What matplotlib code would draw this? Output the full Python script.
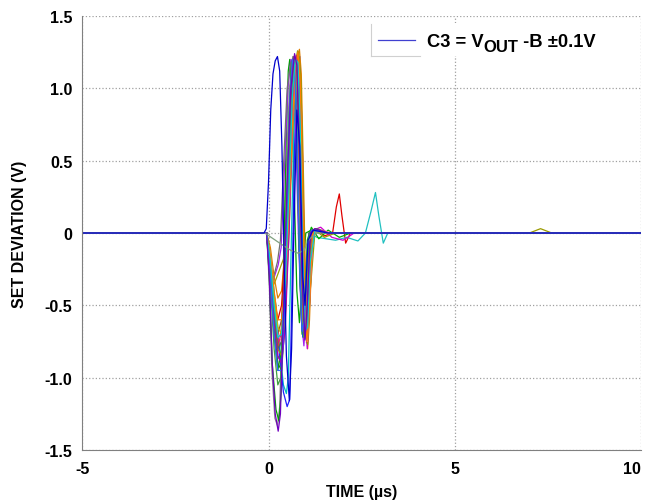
import matplotlib
matplotlib.use('Agg')
import matplotlib.pyplot as plt
from matplotlib.lines import Line2D
from matplotlib.patches import Rectangle

plt.rcParams['font.family'] = ['Liberation Sans', 'DejaVu Sans']
plt.rcParams['font.weight'] = 'bold'
plt.rcParams['axes.unicode_minus'] = False

# SET transients: (colour, time in us, deviation in V)
traces = [
    ('#909090',
     [-5, -0.05, 0.02, 0.09, 0.17, 0.24, 0.3, 0.38, 0.47, 0.56, 0.65, 0.71, 0.77, 0.85, 0.93, 1.0, 1.08, 1.2, 1.6, 10],
     [0, 0, -0.35, -0.95, -1.28, -1.33, -1.2, -0.5, 0.4, 1.0, 1.22, 1.12, 0.55, -0.35, -0.7, -0.45, 0.0, 0.02, 0, 0]),
    ('#00a000',
     [-5, -0.05, 0.02, 0.1, 0.2, 0.28, 0.34, 0.4, 0.47, 0.53, 0.57, 0.62, 0.68, 0.76, 0.83, 0.9, 1.0, 1.15, 1.6, 10],
     [0, 0, -0.3, -0.9, -1.22, -1.3, -1.1, -0.3, 0.6, 1.12, 1.2, 1.05, 0.4, -0.4, -0.62, -0.35, 0.0, 0.02, 0, 0]),
    ('#00c0c0',
     [-5, -0.05, 0.03, 0.1, 0.2, 0.3, 0.4, 0.48, 0.53, 0.6, 0.68, 0.76, 0.82, 0.88, 0.94, 1.0, 1.08, 1.16, 1.3, 10],
     [0, 0, -0.25, -0.35, -0.5, -0.8, -1.05, -1.11, -1.0, -0.2, 0.7, 1.15, 1.2, 0.8, -0.1, -0.6, -0.3, 0.02, 0, 0]),
    ('#2020ff',
     [-5, -0.05, 0.03, 0.1, 0.2, 0.3, 0.4, 0.5, 0.57, 0.63, 0.7, 0.78, 0.84, 0.9, 0.96, 1.02, 1.1, 1.25, 1.6, 10],
     [0, 0, -0.28, -0.38, -0.55, -0.85, -1.1, -1.2, -1.15, -0.4, 0.6, 1.18, 1.22, 0.7, -0.2, -0.65, -0.2, 0.02, 0, 0]),
    ('#a020f0',
     [-5, -0.05, 0.03, 0.08, 0.16, 0.26, 0.34, 0.42, 0.52, 0.6, 0.66, 0.72, 0.8, 0.88, 0.95, 1.02, 1.1, 1.25, 1.6, 10],
     [0, 0, -0.2, -0.36, -0.3, -0.22, -0.1, 0.4, 1.0, 1.2, 1.15, 0.8, 0.0, -0.6, -0.78, -0.5, 0.0, 0.03, 0, 0]),
    ('#a0a000',
     [-5, -0.05, 0.03, 0.1, 0.2, 0.3, 0.4, 0.5, 0.6, 0.7, 0.78, 0.84, 0.9, 0.96, 1.02, 1.08, 1.15, 1.3, 1.6, 10],
     [0, 0, -0.22, -0.38, -0.32, -0.25, -0.18, 0.1, 0.75, 1.15, 1.26, 1.1, 0.4, -0.4, -0.76, -0.45, 0.0, 0.03, 0, 0]),
    ('#707070',
     [-5, -0.05, 0.02, 0.06, 0.14, 0.24, 0.32, 0.4, 0.5, 0.6, 0.68, 0.72, 0.78, 0.86, 0.93, 1.0, 1.08, 1.2, 1.6, 10],
     [0, 0, -0.2, -0.33, -0.3, -0.2, -0.05, 0.45, 1.0, 1.18, 1.22, 1.15, 0.6, -0.3, -0.7, -0.4, 0.0, 0.02, 0, 0]),
    ('#e08000',
     [-5, -0.05, 0.05, 0.15, 0.25, 0.35, 0.45, 0.55, 0.65, 0.75, 0.83, 0.88, 0.93, 0.99, 1.05, 1.1, 1.18, 1.35, 1.6, 10],
     [0, 0, -0.1, -0.3, -0.45, -0.4, -0.1, 0.4, 0.95, 1.2, 1.27, 1.1, 0.5, -0.3, -0.8, -0.6, 0.0, 0.02, 0, 0]),
    ('#e00000',
     [-5, -0.05, 0.05, 0.15, 0.25, 0.35, 0.45, 0.55, 0.65, 0.75, 0.82, 0.9, 0.98, 1.06, 1.15, 1.3, 1.5, 1.72, 1.82, 1.9, 1.97, 2.07, 2.2, 10],
     [0, 0, -0.2, -0.45, -0.6, -0.5, -0.1, 0.5, 1.05, 1.2, 0.9, 0.0, -0.65, -0.4, 0.02, 0.03, -0.02, 0.0, 0.18, 0.27, 0.12, -0.07, 0.0, 0]),
    ('#20c0c0',
     [-5, -0.05, 0.05, 0.15, 0.25, 0.35, 0.45, 0.55, 0.63, 0.7, 0.77, 0.85, 0.93, 1.0, 1.1, 1.3, 1.8, 2.1, 2.4, 2.6, 2.75, 2.87, 2.96, 3.08, 3.2, 10],
     [0, 0, -0.15, -0.4, -0.7, -0.8, -0.5, 0.3, 0.95, 1.2, 1.0, 0.1, -0.6, -0.3, 0.0, -0.03, -0.05, -0.03, -0.055, 0.0, 0.15, 0.28, 0.12, -0.07, 0.0, 0]),
    ('#00b000',
     [-5, -0.05, 0.05, 0.15, 0.25, 0.35, 0.45, 0.55, 0.62, 0.68, 0.75, 0.82, 0.9, 0.96, 1.04, 1.15, 1.35, 1.6, 1.9, 2.2, 10],
     [0, 0, -0.3, -0.7, -0.95, -0.8, -0.2, 0.7, 1.15, 1.2, 0.8, -0.1, -0.7, -0.6, -0.05, 0.04, -0.04, 0.02, -0.03, 0.0, 0]),
    ('#d000d0',
     [-5, -0.05, 0.05, 0.15, 0.25, 0.35, 0.45, 0.55, 0.65, 0.73, 0.8, 0.86, 0.92, 0.98, 1.04, 1.1, 1.2, 1.4, 1.7, 2.0, 2.3, 10],
     [0, 0, -0.25, -0.55, -0.75, -0.7, -0.35, 0.2, 0.85, 1.18, 1.24, 0.95, 0.2, -0.55, -0.8, -0.5, 0.02, 0.04, -0.03, -0.05, 0.0, 0]),
    ('#0040ff',
     [-5, -0.05, 0.05, 0.15, 0.25, 0.35, 0.42, 0.5, 0.58, 0.65, 0.72, 0.78, 0.85, 0.92, 1.0, 1.1, 1.25, 1.6, 10],
     [0, 0, -0.2, -0.5, -0.85, -0.9, -0.5, 0.3, 0.95, 1.2, 1.1, 0.5, -0.35, -0.72, -0.4, 0.0, 0.02, 0, 0]),
    ('#208020',
     [-5, -0.05, 0.05, 0.15, 0.25, 0.35, 0.45, 0.55, 0.65, 0.72, 0.78, 0.84, 0.9, 0.97, 1.03, 1.1, 1.2, 1.6, 10],
     [0, 0, -0.3, -0.65, -0.9, -0.95, -0.6, 0.1, 0.8, 1.15, 1.22, 0.9, 0.1, -0.65, -0.7, -0.3, 0.02, 0, 0]),
    ('#ff3030',
     [-5, -0.05, 0.05, 0.15, 0.25, 0.35, 0.45, 0.55, 0.62, 0.7, 0.76, 0.82, 0.88, 0.95, 1.02, 1.1, 1.2, 1.6, 10],
     [0, 0, -0.25, -0.6, -0.8, -0.65, -0.2, 0.55, 1.0, 1.23, 1.15, 0.6, -0.2, -0.68, -0.55, -0.05, 0.02, 0, 0]),
    ('#9a9a00',
     [-5, -0.05, 0.05, 0.15, 0.25, 0.35, 0.45, 0.55, 0.65, 0.74, 0.81, 0.87, 0.93, 0.99, 1.05, 1.12, 1.25, 1.5, 1.8, 7.0, 7.3, 7.6, 10],
     [0, 0, -0.2, -0.5, -0.8, -0.85, -0.55, 0.0, 0.7, 1.15, 1.25, 1.05, 0.3, -0.5, -0.77, -0.4, 0.02, -0.03, 0.0, 0.0, 0.03, 0.0, 0]),
    ('#a05020',
     [-5, -0.05, 0.05, 0.15, 0.25, 0.35, 0.45, 0.55, 0.64, 0.7, 0.77, 0.84, 0.9, 0.96, 1.02, 1.1, 1.2, 1.6, 10],
     [0, 0, -0.25, -0.55, -0.7, -0.6, -0.2, 0.45, 1.05, 1.2, 1.1, 0.5, -0.25, -0.72, -0.6, -0.1, 0.02, 0, 0]),
    ('#ff60b0',
     [-5, -0.05, 0.05, 0.15, 0.25, 0.35, 0.45, 0.55, 0.65, 0.73, 0.8, 0.86, 0.92, 0.98, 1.04, 1.1, 1.2, 1.4, 1.7, 10],
     [0, 0, -0.2, -0.45, -0.7, -0.75, -0.45, 0.1, 0.8, 1.15, 1.2, 0.85, 0.1, -0.6, -0.75, -0.45, 0.0, 0.02, 0, 0]),
    ('#40a040',
     [-5, -0.05, 0.05, 0.15, 0.25, 0.33, 0.4, 0.47, 0.55, 0.62, 0.68, 0.74, 0.8, 0.87, 0.94, 1.0, 1.1, 1.3, 1.6, 10],
     [0, 0, -0.35, -0.8, -1.05, -1.0, -0.6, 0.1, 0.8, 1.18, 1.2, 0.9, 0.2, -0.5, -0.72, -0.4, 0.0, 0.03, 0, 0]),
    ('#b000b0',
     [-5, -0.05, 0.05, 0.15, 0.25, 0.35, 0.45, 0.55, 0.63, 0.7, 0.77, 0.83, 0.89, 0.95, 1.01, 1.07, 1.15, 1.3, 1.6, 10],
     [0, 0, -0.3, -0.6, -0.85, -0.9, -0.65, 0.0, 0.7, 1.12, 1.23, 1.0, 0.3, -0.45, -0.73, -0.5, 0.0, 0.02, 0, 0]),
    ('#c0c000',
     [-5, -0.05, 0.05, 0.15, 0.25, 0.35, 0.44, 0.52, 0.6, 0.67, 0.73, 0.79, 0.86, 0.93, 1.0, 1.08, 1.2, 1.6, 10],
     [0, 0, -0.2, -0.45, -0.65, -0.7, -0.4, 0.25, 0.9, 1.18, 1.2, 0.85, 0.0, -0.62, -0.66, -0.2, 0.02, 0, 0]),
    ('#606060',
     [-5, -0.05, 0.05, 0.15, 0.25, 0.35, 0.45, 0.53, 0.61, 0.69, 0.76, 0.82, 0.88, 0.95, 1.02, 1.1, 1.2, 1.6, 10],
     [0, 0, -0.25, -0.55, -0.8, -0.75, -0.4, 0.3, 0.95, 1.22, 1.18, 0.7, -0.1, -0.7, -0.62, -0.15, 0.02, 0, 0]),
    ('#ff8000',
     [-5, -0.05, 0.05, 0.15, 0.25, 0.35, 0.45, 0.55, 0.65, 0.72, 0.79, 0.85, 0.91, 0.97, 1.03, 1.09, 1.18, 1.35, 1.6, 10],
     [0, 0, -0.15, -0.4, -0.6, -0.6, -0.35, 0.15, 0.8, 1.12, 1.25, 1.05, 0.35, -0.45, -0.75, -0.55, 0.0, 0.02, 0, 0]),
    ('#3060ff',
     [-5, -0.05, 0.05, 0.15, 0.25, 0.35, 0.43, 0.5, 0.57, 0.64, 0.7, 0.76, 0.83, 0.9, 0.97, 1.05, 1.15, 1.6, 10],
     [0, 0, -0.3, -0.7, -0.95, -0.95, -0.55, 0.2, 0.9, 1.2, 1.15, 0.7, -0.15, -0.68, -0.6, -0.1, 0.02, 0, 0]),
    ('#00d0d0',
     [-5, -0.05, 0.05, 0.15, 0.25, 0.35, 0.45, 0.55, 0.64, 0.72, 0.79, 0.85, 0.91, 0.98, 1.05, 1.12, 1.25, 1.6, 10],
     [0, 0, -0.2, -0.5, -0.72, -0.7, -0.35, 0.3, 0.95, 1.2, 1.18, 0.75, -0.05, -0.68, -0.65, -0.2, 0.02, 0, 0]),
    ('#7000c0',
     [-5, -0.05, 0.02, 0.1, 0.18, 0.26, 0.32, 0.4, 0.5, 0.6, 0.7, 0.76, 0.82, 0.9, 0.98, 1.04, 1.12, 1.25, 1.6, 10],
     [0, 0, -0.3, -0.9, -1.25, -1.37, -1.25, -0.55, 0.35, 1.0, 1.24, 1.16, 0.6, -0.3, -0.74, -0.5, 0.0, 0.03, 0, 0]),
    ('#80a080',
     [-5, -0.1, 0.3, 0.6, 0.8, 0.95, 1.1, 1.3, 10],
     [0, 0, -0.07, -0.12, -0.14, -0.12, -0.04, 0, 0]),
    ('#0000cc',
     [-5, -0.12, -0.06, 0.0, 0.06, 0.12, 0.18, 0.24, 0.3, 0.36, 0.42, 0.48, 0.56, 0.62, 0.68, 0.76, 0.84, 0.92, 0.98, 1.06, 1.2, 1.6, 10],
     [0, 0, 0.03, 0.35, 0.85, 1.1, 1.19, 1.22, 1.12, 0.6, -0.2, -0.85, -1.16, -0.8, 0.0, 0.85, 0.6, -0.3, -0.5, -0.05, 0.02, 0, 0]),
]

x_ticks = [-5, 0, 5, 10]
y_ticks = [1.5, 1.0, 0.5, 0, -0.5, -1.0, -1.5]
y_tick_labels = ['1.5', '1.0', '0.5', '0', '-0.5', '-1.0', '-1.5']
legend_parts = ['C3 = V', 'OUT', ' -B \u00b10.1V']

W, H = 647, 502
fig = plt.figure(figsize=(6.47, 5.02), dpi=100)
ax = fig.add_axes([0.127, 0.1016, 0.864, 0.8645])

for color, t, v in traces:
    ax.plot(t, v, color=color, lw=0.9)

ax.set_xlim(-5, 10)
ax.set_ylim(-1.5, 1.5)
ax.set_xticks(x_ticks)
ax.set_yticks(y_ticks)
ax.set_yticklabels(y_tick_labels)
ax.tick_params(length=0, labelsize=11.5, pad=8)
ax.tick_params(axis='y', pad=7)
# last x label sits flush with the right edge in the original
ax.get_xticklabels()[-1].set_horizontalalignment('right')
ax.grid(True, ls=':', color='#a0a0a0', lw=0.9)

for s in ['top', 'right']:
    ax.spines[s].set_visible(False)
for s in ['left', 'bottom']:
    ax.spines[s].set_color('#808080')

ax.set_xlabel('TIME (µs)', fontsize=11.5, fontweight='bold', labelpad=6)
ax.set_ylabel('SET DEVIATION (V)', fontsize=11.5, fontweight='bold', labelpad=13)

# legend box drawn by hand so the subscript can stay almost full size
fig.patches.append(Rectangle((371 / W, 1 - 57 / H), 236 / W, 33 / H, transform=fig.transFigure,
                             facecolor='white', edgecolor='none', zorder=2))
fig.lines.append(Line2D([371 / W, 371 / W], [1 - 25 / H, 1 - 57 / H], transform=fig.transFigure,
                        color='#d0d0d0', lw=0.8, zorder=3))
fig.lines.append(Line2D([371 / W, 420 / W], [1 - 57 / H, 1 - 57 / H], transform=fig.transFigure,
                        color='#d0d0d0', lw=0.8, zorder=3))
fig.lines.append(Line2D([378 / W, 415 / W], [1 - 41 / H, 1 - 41 / H], transform=fig.transFigure,
                        color='#4040d0', lw=0.9, zorder=3))

fig.canvas.draw()
r = fig.canvas.get_renderer()
x = 427
base = 1 - 47 / H
offsets = [0, -5, 0]
sizes = [13.2, 12, 13.2]
for part, dy, fs in zip(legend_parts, offsets, sizes):
    tx = fig.text(x / W, base + dy / H, part, fontsize=fs, fontweight='bold',
                  va='baseline', ha='left', zorder=4)
    x = tx.get_window_extent(r).x1

fig.savefig('out.png', dpi=100)
